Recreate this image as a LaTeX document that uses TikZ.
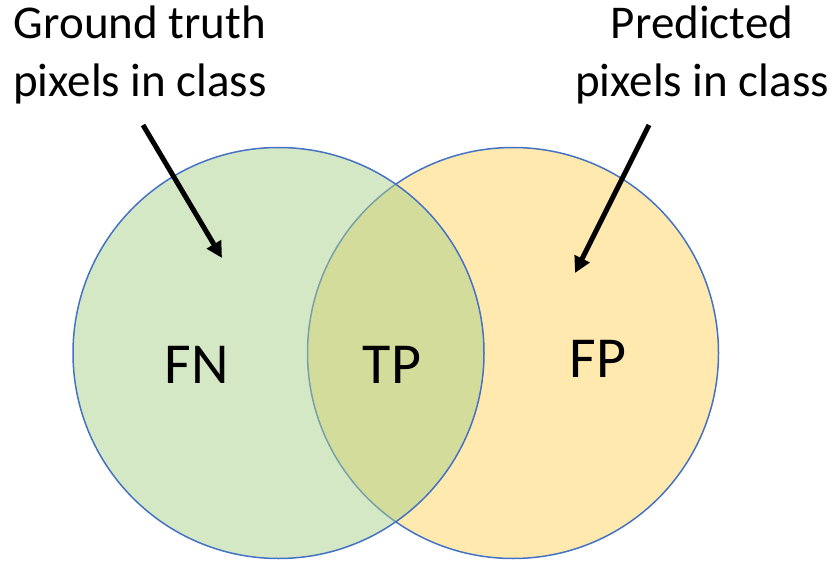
\documentclass[tikz,border=0pt]{standalone}
\usepackage{fontspec}
\setmainfont{Carlito}
\usetikzlibrary{arrows.meta}
\definecolor{edgeblue}{RGB}{68,114,196}
\definecolor{predyellow}{RGB}{255,233,175}
\definecolor{gtgreen}{RGB}{171,209,139}
\tikzset{
  setcircle/.style={circle, draw=edgeblue, line width=1.5pt, inner sep=0pt, minimum size=411pt},
  lbl/.style={font=\fontsize{47}{56}\selectfont, anchor=base, inner sep=0pt},
  big/.style={font=\fontsize{58}{68}\selectfont, anchor=base, inner sep=0pt},
  pointer/.style={line width=5pt, -{Triangle[length=16pt,width=16pt]}}
}
\begin{document}
\begin{tikzpicture}[x=1pt,y=-1pt]
\useasboundingbox (0,0) rectangle (840,561);
\node[setcircle, fill=predyellow] (pred) at (513,353) {};
\node[setcircle, fill=gtgreen, fill opacity=0.5] (gt) at (278.5,353) {};
\node[big] (fn) at (197,383) {FN};
\node[big] (tp) at (392,383) {TP};
\node[big] (fp) at (598,377) {FP};
\node[lbl] (gt1) at (140,39) {Ground truth};
\node[lbl] (gt2) at (140,97) {pixels in class};
\node[lbl] (pr1) at (702,39) {Predicted};
\node[lbl] (pr2) at (702,97) {pixels in class};
\coordinate (gtstart) at (143,125);
\coordinate (gttip) at (222,258);
\coordinate (prstart) at (649,125);
\coordinate (prtip) at (575,273);
\draw[pointer] (gtstart) -- (gttip);
\draw[pointer] (prstart) -- (prtip);
\end{tikzpicture}
\end{document}
